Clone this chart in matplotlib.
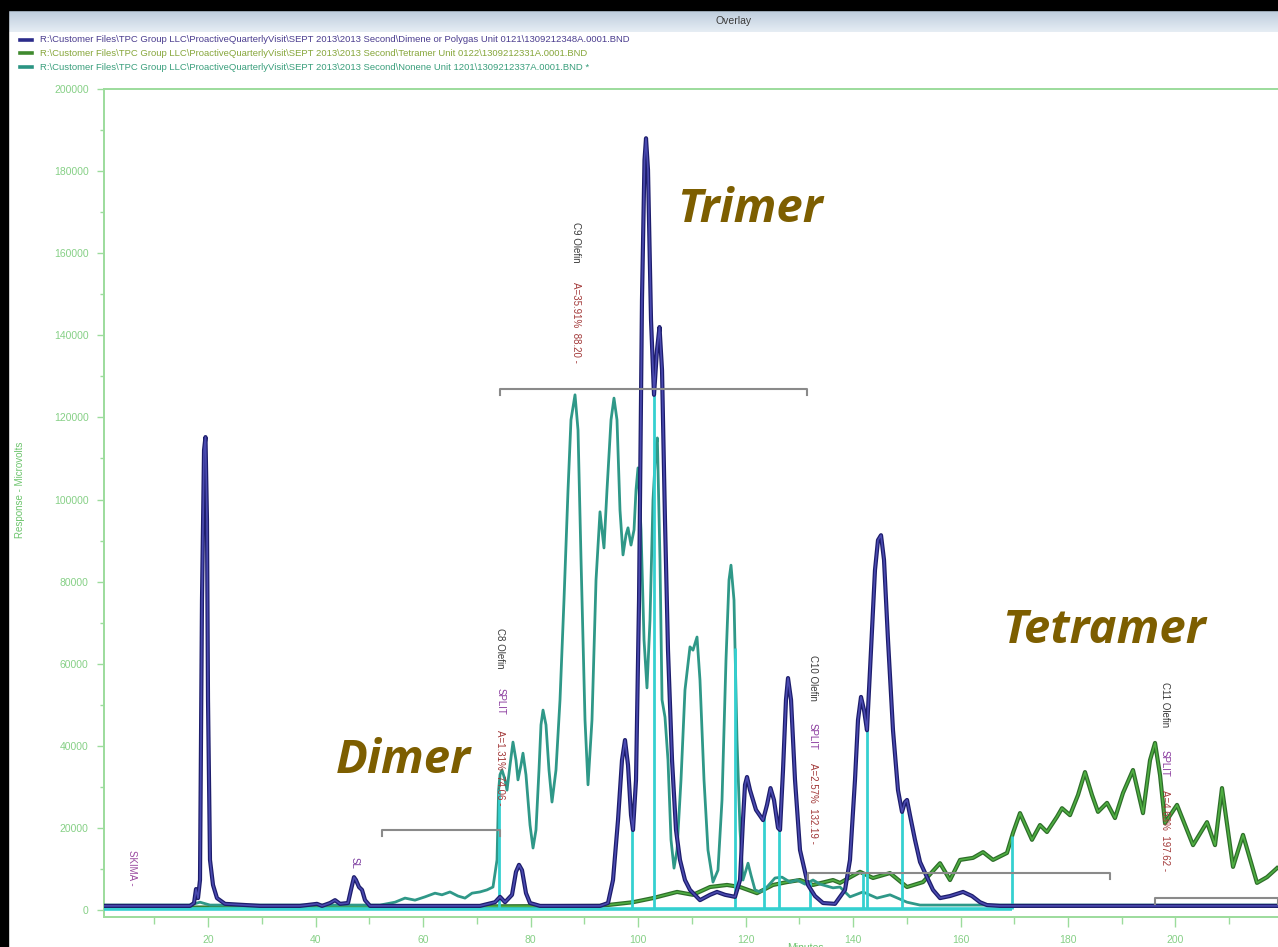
import numpy as np
import matplotlib
matplotlib.use("Agg")
import matplotlib.pyplot as plt
import matplotlib.patheffects as pe
from matplotlib.patches import Rectangle
from matplotlib.lines import Line2D
from matplotlib.colors import LinearSegmentedColormap
from matplotlib.ticker import MultipleLocator, FuncFormatter

plt.rcParams['font.family'] = ['Liberation Sans', 'DejaVu Sans']

# ---- chromatogram traces (retention time in minutes, response in microvolts) ----
polygas_t = [0.65, 16.65, 17.40, 17.77, 18.14, 18.51, 18.88, 19.26, 19.53, 19.81, 20.00, 20.37,
             20.93, 21.67, 23.16, 29.67, 37.12, 40.28, 41.21, 42.70, 43.63, 44.56, 46.05, 46.60,
             47.16, 47.53, 48.09, 48.65, 49.21, 50.14, 55.72, 70.60, 73.40, 74.33, 75.26, 76.56,
             77.30, 77.86, 78.42, 79.16, 79.91, 81.77, 92.93, 94.42, 95.35, 96.28, 97.02, 97.58,
             98.14, 98.70, 99.07, 99.63, 100.19, 100.74, 101.21, 101.49, 101.86, 102.42, 102.98,
             103.53, 104.00, 104.47, 105.02, 105.58, 106.33, 107.07, 107.81, 108.74, 109.67,
             111.53, 113.40, 114.70, 116.19, 118.05, 118.98, 119.53, 119.91, 120.28, 120.84,
             121.95, 123.26, 124.00, 124.65, 125.30, 126.05, 126.42, 126.98, 127.53, 127.91,
             128.47, 129.21, 130.14, 131.63, 132.93, 134.42, 136.65, 138.51, 139.44, 140.37,
             140.93, 141.49, 142.05, 142.60, 143.35, 144.09, 144.65, 145.21, 145.77, 146.51,
             147.44, 148.37, 149.12, 149.67, 150.05, 150.60, 151.53, 152.47, 153.77, 154.88,
             156.19, 158.05, 160.47, 162.14, 163.63, 164.93, 167.35, 219.07]
polygas_uv = [1000, 1000, 1700, 5100, 2900, 7300, 75500, 112000, 115200, 95000, 51200, 12200,
              6100, 2900, 1500, 1000, 1000, 1500, 1000, 1700, 2400, 1500, 1700, 4900,
              8000, 7300, 5600, 4900, 2400, 1000, 1000, 1000, 1900, 3200, 1900, 3700,
              9300, 11000, 9700, 4100, 1700, 1000, 1000, 1700, 7300, 21900, 36500, 41400,
              35300, 23100, 19500, 31700, 75500, 148600, 182700, 188000, 180300, 143700, 125500,
              136400, 142000, 131500, 95000, 63300, 36500, 19500, 12200, 7300, 4900,
              2400, 3700, 4400, 3700, 3200, 7300, 21900, 30500, 32400, 29200,
              24400, 21900, 25600, 29700, 26800, 20000, 19500, 34100, 51200, 56500,
              51200, 31700, 14600, 6100, 3400, 1700, 1500, 4900, 12200, 31700,
              46300, 51900, 48700, 43800, 63300, 82800, 90100, 91300, 85300, 65800,
              43800, 29200, 23900, 26300, 26800, 23100, 17100, 11700, 8000, 4900,
              2900, 3400, 4400, 3400, 1900, 1200, 1000, 1000]

tetramer_t = [0.65, 92.93, 99.07, 102.79, 107.26, 110.23, 113.40, 116.56, 118.98, 122.14, 125.12,
              127.72, 130.14, 132.56, 136.28, 137.58, 141.30, 143.72, 146.88, 150.05, 153.02,
              156.19, 158.05, 159.91, 162.33, 164.19, 166.05, 168.65, 169.77, 171.07, 173.30,
              174.79, 176.09, 177.95, 178.88, 180.37, 181.86, 183.16, 184.47, 185.58, 187.26,
              188.74, 190.23, 192.09, 193.95, 195.26, 196.19, 197.12, 198.05, 200.28, 203.26,
              205.86, 207.35, 208.65, 210.70, 212.56, 215.16, 217.02, 218.88]
tetramer_uv = [500, 1000, 1900, 2900, 4400, 3700, 5600, 6100, 5600, 4100, 6100,
               6800, 7300, 6100, 7300, 6600, 9300, 7800, 9000, 5600, 6800,
               11400, 7300, 12200, 12700, 14100, 12200, 13900, 18800, 23600, 17100,
               20700, 19000, 22700, 24800, 23100, 28000, 33600, 28000, 23900, 26100,
               22400, 28500, 34100, 23600, 36500, 40700, 32900, 21200, 25600, 15800,
               21400, 15800, 29700, 10500, 18300, 6600, 8000, 10200]

nonene_t = [0.65, 16.65, 18.51, 20.37, 37.12, 52.00, 54.79, 56.65, 58.51, 60.37, 62.23, 63.53,
            65.02, 66.51, 67.81, 69.12, 70.60, 71.91, 73.02, 73.77, 74.07, 74.33, 74.70, 75.26,
            75.63, 76.19, 76.74, 77.30, 77.67, 78.23, 78.60, 79.16, 79.91, 80.47, 81.02, 81.58,
            81.95, 82.33, 82.88, 83.44, 84.00, 84.74, 85.49, 86.23, 86.98, 87.53, 88.28, 88.84,
            89.40, 90.14, 90.70, 91.44, 92.19, 92.93, 93.30, 93.67, 94.23, 94.98, 95.53, 96.09,
            96.65, 97.21, 97.77, 98.14, 98.70, 99.26, 99.63, 100.00, 100.56, 101.12, 101.67,
            102.23, 102.79, 103.35, 103.60, 104.09, 104.47, 105.02, 105.58, 106.14, 106.70,
            107.26, 108.00, 108.74, 109.67, 110.23, 110.98, 111.53, 112.28, 113.02, 113.95,
            114.88, 115.63, 116.37, 116.93, 117.30, 117.86, 118.42, 118.98, 119.53, 120.09,
            120.47, 121.02, 121.77, 122.70, 124.00, 125.49, 126.79, 128.28, 129.58, 131.07,
            132.56, 133.86, 136.28, 137.58, 139.44, 141.86, 144.47, 146.88, 150.05, 152.47,
            219.07]
nonene_uv = [1200, 1200, 1900, 1200, 1200, 1200, 1900, 2900, 2400, 3200, 4100, 3700,
             4400, 3400, 2900, 4100, 4400, 4900, 5600, 12200, 29200, 33000, 34100, 31700,
             29200, 35300, 40900, 36500, 31700, 35300, 38200, 32900, 20700, 15100, 19500, 34100,
             45100, 48700, 45100, 34100, 26300, 34100, 51200, 75500, 102300, 119400, 125500, 116900,
             85300, 46300, 30500, 46300, 80400, 97000, 92600, 88200, 102300, 119400, 124700, 119400,
             97400, 86500, 91400, 93100, 88900, 92600, 102300, 107700, 92600, 65800, 54100,
             70600, 99900, 113000, 115000, 85300, 51200, 47000, 36500, 17100, 10200,
             14600, 31700, 53600, 64100, 63300, 66500, 56000, 31700, 14600, 6800,
             9700, 26800, 60900, 80400, 84000, 75500, 41400, 19500, 7300, 9700,
             11400, 8500, 4900, 4400, 5600, 7800, 8000, 6800, 7300, 6300,
             7300, 6300, 5400, 5600, 3200, 4400, 2900, 3700, 1900, 1200,
             1200]

# integration drop lines: retention time and the trace they drop onto
drop_t = [74.07, 98.88, 102.98, 118.05, 123.45, 126.24, 131.98, 141.86, 142.60, 149.12, 169.60]
drop_src = ['nonene', 'polygas', 'polygas', 'nonene', 'polygas', 'polygas', 'nonene',
            'tetramer', 'polygas', 'polygas', 'tetramer']
integration_end = 169.60

# group brackets (start, end, level)
bracket_start = [52.4, 74.3, 131.6, 196.2]
bracket_end = [74.3, 131.4, 187.8, 219.07]
bracket_level = [19500, 126900, 9000, 2900]

# peak labels
peak_name = ['C8 Olefin', 'C9 Olefin', 'C10 Olefin', 'C11 Olefin']
peak_rt = ['74.06', '88.20', '132.19', '197.62']
peak_area = ['A=1.31%', 'A=35.91%', 'A=2.57%', 'A=4.63%']
peak_split = [True, False, True, True]

legend_files = [
    r"R:\Customer Files\TPC Group LLC\ProactiveQuarterlyVisit\SEPT 2013\2013 Second\Dimene or Polygas Unit 0121\1309212348A.0001.BND",
    r"R:\Customer Files\TPC Group LLC\ProactiveQuarterlyVisit\SEPT 2013\2013 Second\Tetramer Unit 0122\1309212331A.0001.BND",
    r"R:\Customer Files\TPC Group LLC\ProactiveQuarterlyVisit\SEPT 2013\2013 Second\Nonene Unit 1201\1309212337A.0001.BND *",
]

W, H = 1278, 947
fig = plt.figure(figsize=(W / 100, H / 100), dpi=100)
fig.patch.set_facecolor('white')

def fx(px):
    return px / W

def fy(py):
    return 1 - py / H

# window frame
fig.patches.append(Rectangle((0, 0), fx(8), 1, transform=fig.transFigure, color='black', zorder=0))
fig.patches.append(Rectangle((0, fy(10)), 1, 1 - fy(10), transform=fig.transFigure, color='black', zorder=0))
bar = fig.add_axes([fx(9), fy(32), 1 - fx(9), fy(10) - fy(32)])
bar_cmap = LinearSegmentedColormap.from_list('bar', ['#bccbdc', '#e6edf4'])
bar.imshow(np.linspace(0, 1, 32)[:, None], cmap=bar_cmap, aspect='auto')
bar.set_axis_off()
fig.text(fx(734), fy(21), 'Overlay', ha='center', va='center', fontsize=7.5, color='#3c3c3c')

# file legend
legend_line = ['#2b2b8a', '#3f8a2e', '#2a9482']
legend_text = ['#4b3d8f', '#86a63a', '#3a9f7c']
for i, (name, lc, tc) in enumerate(zip(legend_files, legend_line, legend_text)):
    yy = fy(40 + 13.5 * i)
    fig.lines.append(Line2D([fx(20), fx(32)], [yy, yy], transform=fig.transFigure,
                            color=lc, lw=2.6))
    fig.text(fx(40), yy, name, ha='left', va='center', fontsize=6.8, color=tc)

# plot area
ax = fig.add_axes([fx(104), fy(917), 1 - fx(104), fy(89) - fy(917)])
ax.set_xlim(0.65, 219.07)
ax.set_ylim(-1705, 200000)

green_axis = '#9cdc9c'
for side in ['left', 'top', 'bottom']:
    ax.spines[side].set_color(green_axis)
    ax.spines[side].set_linewidth(1.4)
ax.spines['right'].set_visible(False)

ax.xaxis.set_major_locator(MultipleLocator(20))
ax.xaxis.set_minor_locator(MultipleLocator(10))
ax.yaxis.set_major_locator(MultipleLocator(20000))
ax.yaxis.set_minor_locator(MultipleLocator(10000))
ax.xaxis.set_major_formatter(FuncFormatter(lambda v, p: f'{int(round(v))}'))
ax.yaxis.set_major_formatter(FuncFormatter(lambda v, p: f'{int(round(v))}'))
ax.tick_params(axis='x', which='major', length=7, width=1, color=green_axis,
               labelcolor='#86d086', labelsize=7.5, pad=6)
ax.tick_params(axis='x', which='minor', length=5, width=1, color=green_axis)
ax.tick_params(axis='y', which='major', length=5, width=1, color=green_axis,
               labelcolor='#86d086', labelsize=7.5, pad=6)
ax.tick_params(axis='y', which='minor', length=3, width=1, color=green_axis)

fig.text(fx(20), fy(490), 'Response - Microvolts', rotation=90, ha='center', va='center',
         fontsize=7, color='#6cc46c')
# axis title sits just below the tick labels, mostly past the window edge
fig.text(fx(805), fy(943), 'Minutes', ha='center', va='top', fontsize=7.5, color='#6cc46c')

# traces
ax.plot(tetramer_t, tetramer_uv, color='#4fae42', lw=1.2, zorder=2,
        path_effects=[pe.Stroke(linewidth=3.0, foreground='#2e6e2a'), pe.Normal()])
ax.plot(nonene_t, nonene_uv, color='#2f9888', lw=2.0, zorder=3)

series = {'polygas': (polygas_t, polygas_uv), 'tetramer': (tetramer_t, tetramer_uv),
          'nonene': (nonene_t, nonene_uv)}
cyan = '#35d0d0'
ax.plot([ax.get_xlim()[0], integration_end], [300, 300], color=cyan, lw=2.6, zorder=3.5,
        solid_capstyle='butt')
for t, src in zip(drop_t, drop_src):
    st, su = series[src]
    top = np.interp(t, st, su)
    ax.vlines(t, 300, top, color=cyan, lw=2.0, zorder=3.6)

ax.plot(polygas_t, polygas_uv, color='#4a4ab0', lw=1.2, zorder=4,
        path_effects=[pe.Stroke(linewidth=3.0, foreground='#1d1d6c'), pe.Normal()])

# group brackets
for x0, x1, lvl in zip(bracket_start, bracket_end, bracket_level):
    tick = 1500
    ax.plot([x0, x0, x1, x1], [lvl - tick, lvl, lvl, lvl - tick], color='#8a8a8a', lw=1.5,
            zorder=5, clip_on=True)

# peak annotations (vertical text, reading downward)
label_top_name = [68700, 167600, 62100, 55500]
label_top_split = [54100, None, 45600, 39000]
label_top_area = [43800, 153000, 35800, 29200]
for name, rt, area, split, tn, ts, ta in zip(peak_name, peak_rt, peak_area, peak_split,
                                             label_top_name, label_top_split, label_top_area):
    xt = float(rt) + 0.35
    kw = dict(rotation=270, ha='center', va='top', fontsize=7, zorder=6)
    ax.text(xt, tn, name, color='#3a3a3a', **kw)
    if split:
        ax.text(xt, ts, 'SPLIT', color='#8a3a9e', **kw)
    ax.text(xt, ta, f'{area}  {rt} -', color='#a23838', **kw)

ax.text(5.9, 14600, 'SKIMA -', rotation=270, ha='center', va='top', fontsize=7,
        color='#9a4aa0', zorder=6)
ax.text(47.35, 12900, 'SL', rotation=270, ha='center', va='top', fontsize=7,
        color='#7a3a9e', zorder=6)

# oligomer group names
big = dict(fontsize=34, fontweight='bold', fontstyle='italic', color='#7d5e00',
           family=['Open Sans', 'DejaVu Sans'], ha='left', va='baseline', zorder=7)
ax.text(107.3, 167600, 'Trimer', **big)
ax.text(43.8, 33400, 'Dimer', **big)
ax.text(167.7, 65000, 'Tetramer', **big)

fig.savefig('out.png', dpi=100)
